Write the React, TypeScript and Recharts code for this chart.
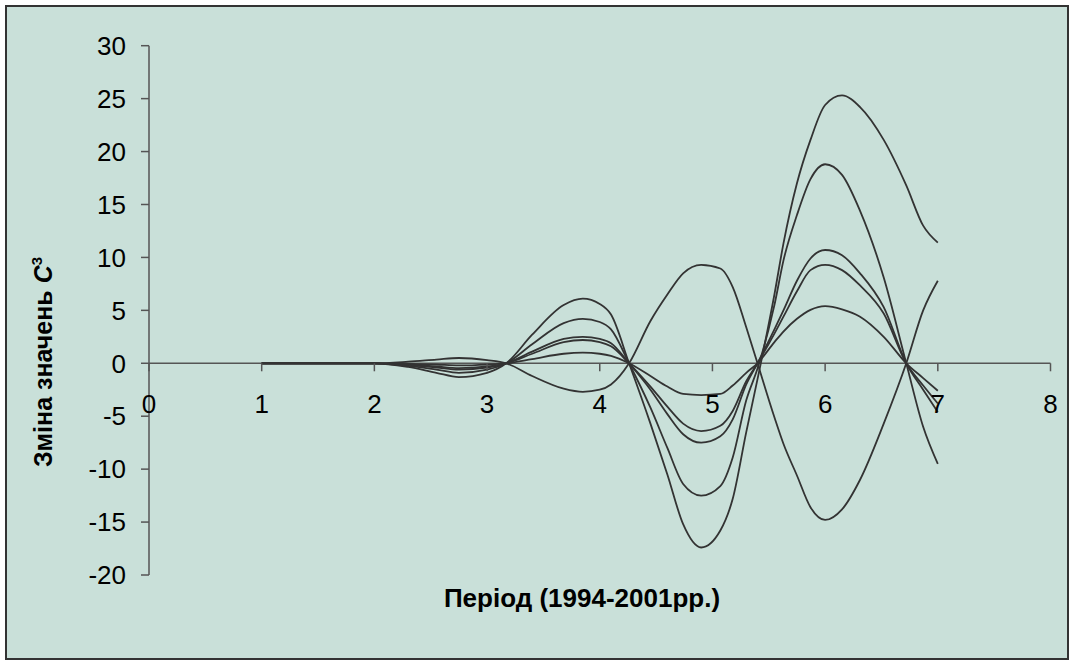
import React from 'react';
import { LineChart, Line, XAxis, YAxis, ReferenceLine, Label } from 'recharts';

// x positions (period) and readings for each of the six curves
const X_VALUES = [1, 2, 2.3, 2.55, 2.75, 3.0, 3.17, 3.4, 3.68, 3.85, 4.0, 4.1, 4.26, 4.45, 4.6, 4.74, 4.9, 5.07, 5.18, 5.3, 5.4, 5.55, 5.63, 5.75, 5.87, 6.0, 6.15, 6.31, 6.52, 6.72, 6.87, 7.0];

const SERIES_A = [0, 0, -0.35, -0.9, -1.3, -0.9, 0, 2.7, 5.5, 6.1, 5.6, 4.6, 0, -5.7, -10.5, -15.2, -17.4, -15.8, -12.8, -6.5, -1.5, 6.5, 11.3, 17, 21.1, 24.4, 25.3, 24.2, 21.1, 16.8, 13.0, 11.4];
const SERIES_B = [0, 0, -0.25, -0.6, -0.9, -0.6, 0, 1.8, 3.8, 4.2, 3.9, 3.2, 0, -4.2, -8.0, -11.4, -12.5, -11.6, -8.9, -3.5, -0.5, 5.5, 9.7, 14.0, 17.4, 18.8, 17.8, 14.4, 8.1, 0, -6.0, -9.5];
const SERIES_C = [0, 0, -0.15, -0.4, -0.6, -0.4, 0, 1.1, 2.3, 2.5, 2.3, 1.9, 0, -2.5, -4.8, -6.7, -7.5, -6.9, -5.3, -2.0, 0, 3.2, 5.0, 7.8, 9.9, 10.7, 10.2, 8.5, 5.3, 0, -2.5, -4.6];
const SERIES_D = [0, 0, -0.1, -0.3, -0.45, -0.3, 0, 0.9, 2.0, 2.2, 2.0, 1.6, 0, -2.2, -4.1, -5.7, -6.4, -5.9, -4.5, -1.7, 0, 2.8, 4.4, 6.8, 8.8, 9.3, 8.8, 7.35, 4.7, 0, -2.1, -3.8];
const SERIES_E = [0, 0, -0.05, -0.12, -0.2, -0.12, 0, 0.4, 0.9, 1.0, 0.9, 0.7, 0, -1.2, -2.2, -2.9, -3.0, -2.9, -2.1, -0.9, 0, 2.0, 3.0, 4.2, 5.05, 5.4, 5.1, 4.4, 2.5, 0, -1.4, -2.6];
const SERIES_F = [0, 0, 0.15, 0.35, 0.5, 0.3, 0, -1.2, -2.4, -2.7, -2.5, -2.0, 0, 4.0, 6.5, 8.5, 9.3, 8.95, 7.2, 3.4, 0, -5.1, -7.6, -10.6, -13.6, -14.8, -13.8, -11.0, -5.7, 0, 5.0, 7.8];

const X_TICKS = [0, 1, 2, 3, 4, 5, 6, 7, 8];
const Y_TICKS = [-20, -15, -10, -5, 0, 5, 10, 15, 20, 25, 30];

const SERIES_KEYS = ['a', 'b', 'c', 'd', 'e', 'f'];
const ALL_SERIES = [SERIES_A, SERIES_B, SERIES_C, SERIES_D, SERIES_E, SERIES_F];

const data = X_VALUES.map((x, i) => {
  const row: Record<string, number> = { x };
  SERIES_KEYS.forEach((k, s) => { row[k] = ALL_SERIES[s][i]; });
  return row;
});

const W = 1075;
const H = 666;
const TOP = 45.7;
const PLOT_BOTTOM = 575;
const Y_MIN = -20;
const Y_MAX = 30;
// pixel row of y = 0, where the category axis crosses
const ZERO_Y = TOP + (PLOT_BOTTOM - TOP) * (Y_MAX - 0) / (Y_MAX - Y_MIN);

const FONT = "Arial, 'Liberation Sans', sans-serif";
const AXIS_COLOR = '#555';
const LINE_COLOR = '#333';

const XTick = (props: any) => {
  const { x, payload } = props;
  return (
    <g>
      <line x1={x} x2={x} y1={ZERO_Y} y2={ZERO_Y + 8} stroke={AXIS_COLOR} strokeWidth={1.5} />
      <text x={x} y={ZERO_Y + 50} textAnchor="middle" fontSize={26} fill="#000" fontFamily={FONT}>
        {payload.value}
      </text>
    </g>
  );
};

export default function App() {
  return (
    <div style={{ position: 'absolute', left: 0, top: 0, width: W, height: H, background: '#fff' }}>
      <div
        style={{
          position: 'absolute',
          left: 5,
          top: 5,
          width: 1060,
          height: 651,
          background: '#C9E0D9',
          border: '2px solid #333',
        }}
      />
      <div style={{ position: 'absolute', left: 0, top: 0 }}>
        <LineChart width={W} height={H} data={data} margin={{ top: TOP, right: 24.5, bottom: 61, left: 0 }}>
          <XAxis
            dataKey="x"
            type="number"
            domain={[0, 8]}
            ticks={X_TICKS}
            axisLine={false}
            tickLine={false}
            tick={<XTick />}
            height={30}
            interval={0}
          >
            <Label
              content={() => (
                <text x={582} y={607} textAnchor="middle" fontSize={26} fontWeight="bold" fill="#000" fontFamily={FONT}>
                  Період (1994-2001рр.)
                </text>
              )}
            />
          </XAxis>
          <YAxis
            type="number"
            domain={[Y_MIN, Y_MAX]}
            ticks={Y_TICKS}
            width={149}
            interval={0}
            axisLine={{ stroke: AXIS_COLOR, strokeWidth: 1.5 }}
            tickLine={{ stroke: AXIS_COLOR, strokeWidth: 1.5 }}
            tickSize={8}
            tickMargin={15}
            tick={{ fontSize: 26, fill: '#000', fontFamily: FONT }}
          >
            <Label
              content={() => (
                <text
                  x={52}
                  y={362}
                  transform="rotate(-90, 52, 362)"
                  textAnchor="middle"
                  fontSize={25}
                  fontWeight="bold"
                  fill="#000"
                  fontFamily={FONT}
                >
                  Зміна значень <tspan fontStyle="italic">C</tspan>
                  <tspan fontSize={15} dy={-10}>3</tspan>
                </text>
              )}
            />
          </YAxis>
          <ReferenceLine y={0} stroke={AXIS_COLOR} strokeWidth={1.5} />
          {SERIES_KEYS.map((k) => (
            <Line
              key={k}
              dataKey={k}
              type="monotone"
              stroke={LINE_COLOR}
              strokeWidth={1.8}
              dot={false}
              activeDot={false}
              isAnimationActive={false}
            />
          ))}
        </LineChart>
      </div>
    </div>
  );
}
